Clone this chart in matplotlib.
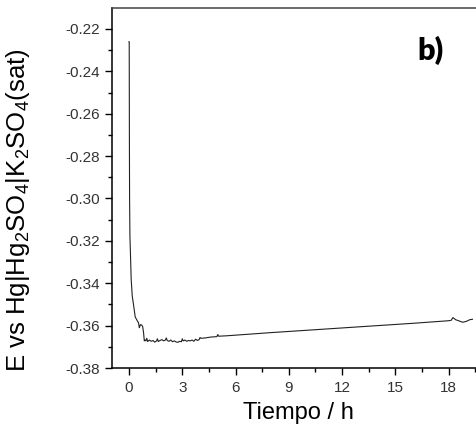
import matplotlib
matplotlib.use("Agg")
import matplotlib.pyplot as plt
from matplotlib.ticker import MultipleLocator, FormatStrFormatter

# potencial vs tiempo
tiempo_h = [0.0, 0.01, 0.02, 0.03, 0.05, 0.08, 0.12, 0.18, 0.25, 0.3, 0.35,
            0.42, 0.48, 0.53, 0.58, 0.6, 0.65, 0.72, 0.77, 0.82, 0.86, 0.9,
            0.95, 1.0, 1.05, 1.15, 1.25, 1.35, 1.45, 1.55, 1.6, 1.65, 1.75,
            1.85, 1.95, 2.05, 2.1, 2.15, 2.25, 2.35, 2.45, 2.55, 2.65, 2.75,
            2.85, 2.95, 3.0, 3.05, 3.15, 3.25, 3.35, 3.45, 3.55, 3.65, 3.75,
            3.85, 3.95, 4.0, 4.05, 4.3, 4.6, 4.95, 5.0, 5.05, 5.5, 6.5, 8.0,
            10.0, 12.0, 14.0, 16.0, 17.5, 18.0, 18.15, 18.25, 18.4, 18.6,
            18.8, 19.0, 19.2, 19.35]
potencial_V = [-0.226, -0.226, -0.27, -0.299, -0.318, -0.326, -0.338, -0.346,
               -0.350, -0.353, -0.356, -0.357, -0.358, -0.3585, -0.361, -0.3605,
               -0.3595, -0.3598, -0.3605, -0.3635, -0.3672, -0.3668, -0.3672,
               -0.3660, -0.3675, -0.3668, -0.3674, -0.3670, -0.3678, -0.3672,
               -0.3662, -0.3675, -0.3670, -0.3666, -0.3672, -0.3668, -0.3658,
               -0.3670, -0.3674, -0.3668, -0.3676, -0.3672, -0.3677, -0.3679,
               -0.3674, -0.3676, -0.3662, -0.3672, -0.3668, -0.3674, -0.3670,
               -0.3672, -0.3668, -0.3674, -0.3664, -0.3670, -0.3666, -0.3656,
               -0.3660, -0.3658, -0.3654, -0.3652, -0.3642, -0.3650, -0.3648,
               -0.3642, -0.3633, -0.3622, -0.3611, -0.3600, -0.3589, -0.3580,
               -0.3577, -0.3575, -0.3562, -0.3572, -0.3578, -0.3584, -0.3580,
               -0.3572, -0.3570]

xlim = (-0.96, 20.0)
ylim = (-0.38, -0.2101)

plt.rcParams["font.family"] = ["Liberation Sans", "DejaVu Sans"]
plt.rcParams["axes.unicode_minus"] = False
plt.rcParams["mathtext.fontset"] = "custom"
plt.rcParams["mathtext.rm"] = "Liberation Sans"
plt.rcParams["mathtext.it"] = "Liberation Sans:italic"

fig = plt.figure(figsize=(4.76, 4.29), dpi=100)
ax = fig.add_axes([112 / 476, 1 - 368 / 429, 372 / 476, 360 / 429])

ax.plot(tiempo_h, potencial_V, color="#222222", lw=0.8)
ax.set_xlim(*xlim)
ax.set_ylim(*ylim)

ax.xaxis.set_major_locator(MultipleLocator(3))
ax.xaxis.set_minor_locator(MultipleLocator(1.5))
ax.yaxis.set_major_locator(MultipleLocator(0.02))
ax.yaxis.set_minor_locator(MultipleLocator(0.01))
ax.yaxis.set_major_formatter(FormatStrFormatter("%.2f"))

ax.tick_params(which="major", direction="out", length=5, width=1,
               labelsize=11, labelcolor="#333333", pad=4)
ax.tick_params(which="minor", direction="out", length=3, width=1)

ax.spines["right"].set_visible(False)
for s in ("left", "bottom"):
    ax.spines[s].set_linewidth(1.1)
ax.spines["top"].set_linewidth(1.1)
ax.spines["top"].set_color("#444444")

ax.set_xlabel("Tiempo / h", fontsize=17)
ax.xaxis.set_label_coords(0.5, -0.095)
ax.set_ylabel(r"E vs Hg|Hg$_2$SO$_4$|K$_2$SO$_4$(sat)", fontsize=18.5)
ax.yaxis.set_label_coords(-0.215, 0.44)

ax.text(0.857, 0.883, "b)", transform=ax.transAxes, ha="center", va="center",
        fontsize=22, fontweight="heavy", family=["Lato", "DejaVu Sans"])

fig.savefig("out.png", dpi=100, facecolor="white")
